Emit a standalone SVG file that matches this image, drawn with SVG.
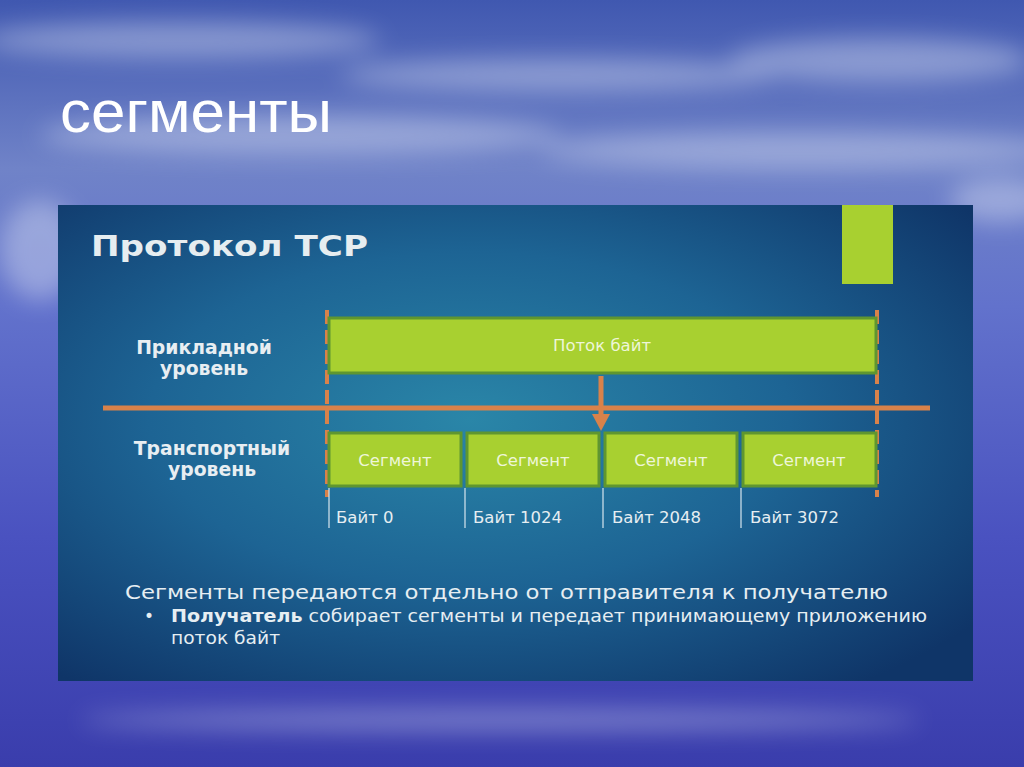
<svg xmlns="http://www.w3.org/2000/svg" width="1024" height="767" viewBox="0 0 1024 767">
<defs>
<linearGradient id="sky" x1="0" y1="0" x2="0" y2="1">
<stop offset="0" stop-color="#4058b0"/>
<stop offset="0.22" stop-color="#7083c8"/>
<stop offset="0.4" stop-color="#6272cc"/>
<stop offset="0.7" stop-color="#4a52c0"/>
<stop offset="1" stop-color="#3a3dac"/>
</linearGradient>
<radialGradient id="panel" cx="0.45" cy="0.45" r="0.7">
<stop offset="0" stop-color="#2a86a8"/>
<stop offset="0.5" stop-color="#1d6494"/>
<stop offset="1" stop-color="#0f3568"/>
</radialGradient>
<filter id="blur" x="-50%" y="-50%" width="200%" height="200%"><feGaussianBlur stdDeviation="12"/></filter>
<style>
.bar{fill:#a8d030;stroke:#5f9630;stroke-width:3}
.lbl{font-family:"DejaVu Sans",sans-serif;fill:#e6eef2}
.seg{font-family:"DejaVu Sans",sans-serif;font-size:16.5px;fill:#eef6d8;text-anchor:middle}
.hd{font-family:"DejaVu Sans",sans-serif;font-weight:bold;font-size:18.8px;fill:#e8eef2;text-anchor:middle}
.dash{stroke:#d8824a;stroke-width:4;stroke-dasharray:14 6;fill:none}
.tick{stroke:#d8e6ee;stroke-width:1.2}
.byte{font-family:"DejaVu Sans",sans-serif;font-size:16.5px;fill:#e6eef2}
</style>
</defs>
<rect width="1024" height="767" fill="url(#sky)"/>
<g filter="url(#blur)" fill="#e0e6f6" opacity="0.4">
<ellipse cx="180" cy="40" rx="200" ry="18"/>
<ellipse cx="560" cy="75" rx="220" ry="16"/>
<ellipse cx="880" cy="60" rx="150" ry="22"/>
<ellipse cx="300" cy="135" rx="260" ry="20"/>
<ellipse cx="800" cy="150" rx="260" ry="18"/>
<ellipse cx="40" cy="250" rx="40" ry="50"/>
<ellipse cx="1000" cy="200" rx="50" ry="22"/>
<ellipse cx="500" cy="720" rx="420" ry="10"/>
</g>
<text x="60" y="132" font-family="Liberation Sans, Arial, sans-serif" font-size="60" fill="#ffffff" textLength="272" lengthAdjust="spacingAndGlyphs">сегменты</text>
<g id="panel-bg">
<rect x="58" y="205" width="915" height="476" fill="url(#panel)"/>
<rect x="842" y="205" width="51" height="79" fill="#a8d030"/>
<text x="91" y="256" font-family="DejaVu Sans, sans-serif" font-weight="bold" font-size="29" fill="#e6edf0" textLength="277" lengthAdjust="spacingAndGlyphs">Протокол TCP</text>
</g>
<g id="label-app">
<text class="hd" x="204" y="354">Прикладной</text>
<text class="hd" x="204" y="375">уровень</text>
</g>
<g id="label-transport">
<text class="hd" x="212" y="455">Транспортный</text>
<text class="hd" x="212" y="476">уровень</text>
</g>
<g id="connectors">
<line class="dash" x1="327" y1="310" x2="327" y2="497"/>
<line class="dash" x1="877" y1="310" x2="877" y2="497"/>
<line x1="103" y1="408" x2="930" y2="408" stroke="#d8824a" stroke-width="5"/>
<line x1="601" y1="376" x2="601" y2="416" stroke="#d8824a" stroke-width="5"/>
<path d="M592,414 L610,414 L601,431 z" fill="#d8824a"/>
<line class="tick" x1="329" y1="488" x2="329" y2="528"/>
<line class="tick" x1="465" y1="488" x2="465" y2="528"/>
<line class="tick" x1="603" y1="488" x2="603" y2="528"/>
<line class="tick" x1="741" y1="488" x2="741" y2="528"/>
</g>
<g id="stream">
<rect class="bar" x="329" y="318" width="547" height="55"/>
<text class="seg" x="602" y="351" font-size="17">Поток байт</text>
</g>
<g id="seg1"><rect class="bar" x="329" y="433" width="132" height="53"/><text class="seg" x="395" y="466">Сегмент</text></g>
<g id="seg2"><rect class="bar" x="467" y="433" width="132" height="53"/><text class="seg" x="533" y="466">Сегмент</text></g>
<g id="seg3"><rect class="bar" x="605" y="433" width="132" height="53"/><text class="seg" x="671" y="466">Сегмент</text></g>
<g id="seg4"><rect class="bar" x="743" y="433" width="133" height="53"/><text class="seg" x="809" y="466">Сегмент</text></g>
<g id="bytes">
<text class="byte" x="336" y="523">Байт 0</text>
<text class="byte" x="473" y="523">Байт 1024</text>
<text class="byte" x="612" y="523">Байт 2048</text>
<text class="byte" x="750" y="523">Байт 3072</text>
</g>
<g id="body">
<text class="lbl" x="125" y="599" font-size="20" textLength="763" lengthAdjust="spacingAndGlyphs">Сегменты передаются отдельно от отправителя к получателю</text>
<text class="lbl" x="144" y="622" font-size="17">•</text>
<text class="lbl" x="171" y="622" font-size="17.5" textLength="756" lengthAdjust="spacingAndGlyphs"><tspan font-weight="bold">Получатель</tspan> собирает сегменты и передает принимающему приложению</text>
<text class="lbl" x="171" y="644" font-size="17.5" textLength="109" lengthAdjust="spacingAndGlyphs">поток байт</text>
</g>
</svg>
